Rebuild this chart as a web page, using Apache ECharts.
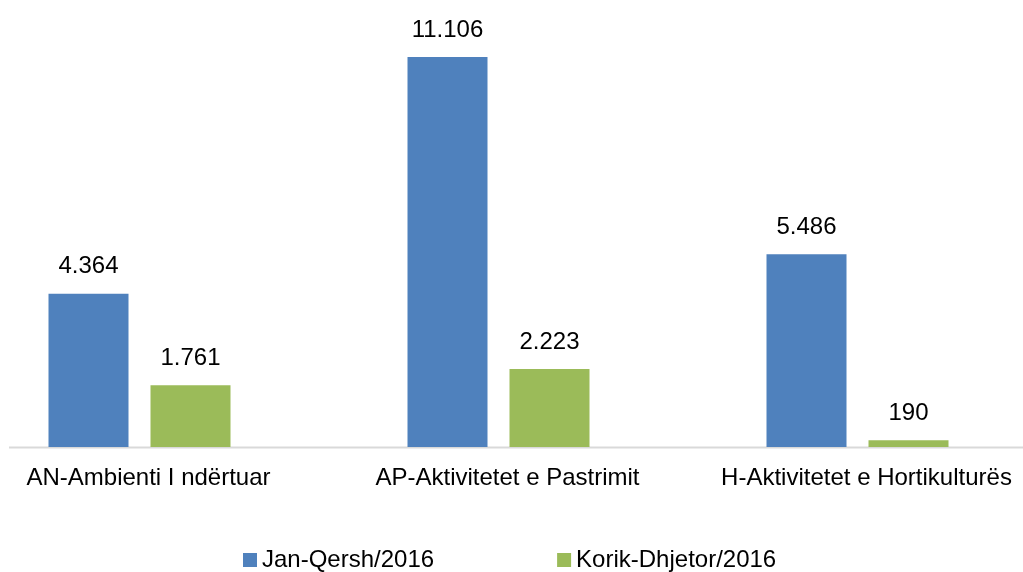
<!DOCTYPE html>
<html><head><meta charset="utf-8">
<script src="https://cdn.jsdelivr.net/npm/echarts@6/dist/echarts.min.js"></script>
<style>html,body{margin:0;padding:0;background:#fff}#c{width:1023px;height:572px}</style>
</head><body><div id="c"></div>
<script>
const categories = ["AN-Ambienti I ndërtuar", "AP-Aktivitetet e Pastrimit", "H-Aktivitetet e Hortikulturës"];
const seriesNames = ["Jan-Qersh/2016", "Korik-Dhjetor/2016"];
const janQersh = [4364, 11106, 5486];
const korikDhjetor = [1761, 2223, 190];

const fmt = v => String(v).replace(/\B(?=(\d{3})+(?!\d))/g, '.');
const chart = echarts.init(document.getElementById('c'));
const font = 'Liberation Sans, Arial, sans-serif';
const fs = 24;
chart.setOption({
  animation: false,
  textStyle: {fontFamily: font},
  grid: {left: -40, right: -14, top: 57, bottom: 125, containLabel: false, outerBoundsMode: 'none'},
  xAxis: {
    type: 'category', data: categories,
    axisLine: {show: false}, axisTick: {show: false},
    axisLabel: {color: '#000', fontSize: fs, fontFamily: font, margin: 19, padding: [0, 0, 0, 18], interval: 0}
  },
  yAxis: {type: 'value', min: 0, max: 11106, show: false, splitLine: {show: false}},
  legend: {
    bottom: 0, left: 243, padding: 0, itemWidth: 14, itemHeight: 14, itemGap: 123,
    icon: 'rect',
    textStyle: {color: '#000', fontSize: fs, fontFamily: font},
    data: seriesNames
  },
  graphic: [{type: 'line', shape: {x1: 9, y1: 447.5, x2: 1023, y2: 447.5}, style: {stroke: '#d9d9d9', lineWidth: 2}, z: 0}],
  series: [
    {name: seriesNames[0], type: 'bar', data: janQersh, barWidth: 80, barGap: '27.5%',
     itemStyle: {color: '#4f81bd'},
     label: {show: true, position: 'top', distance: 15, color: '#000', fontSize: fs, fontFamily: font, formatter: p => fmt(p.value)}},
    {name: seriesNames[1], type: 'bar', data: korikDhjetor, barWidth: 80,
     itemStyle: {color: '#9bbb59'},
     label: {show: true, position: 'top', distance: 15, color: '#000', fontSize: fs, fontFamily: font, formatter: p => fmt(p.value)}}
  ]
});
</script></body></html>
